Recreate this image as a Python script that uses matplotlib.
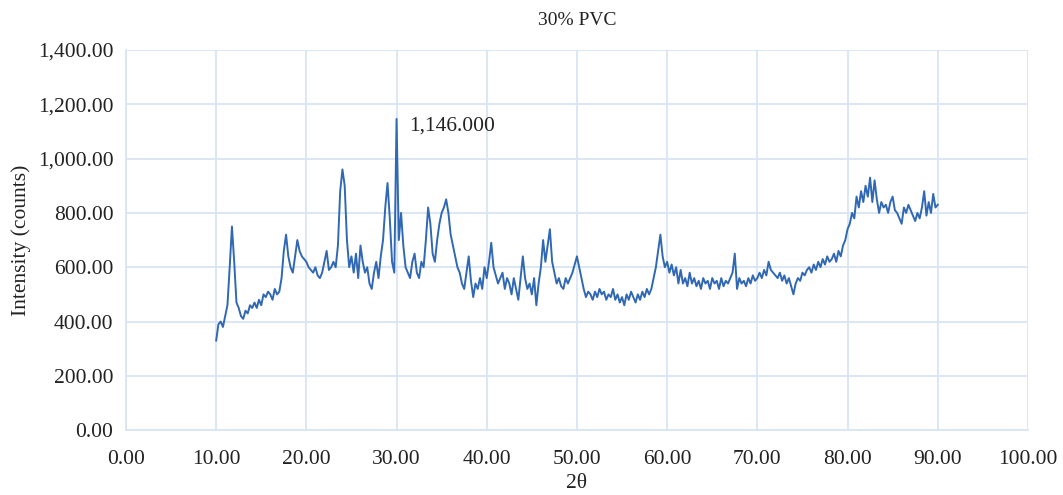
import matplotlib
matplotlib.use("Agg")
import matplotlib.pyplot as plt
from matplotlib.ticker import FuncFormatter, MultipleLocator

title = "30% PVC"
x_label = "2θ"
y_label = "Intensity (counts)"
peak_x = 30.0
peak_y = 1146
peak_label = "1,146.000"

two_theta = [
    10.00, 10.25, 10.50, 10.75, 11.00, 11.25, 11.50, 11.75, 12.00, 12.25,
    12.50, 12.75, 13.00, 13.25, 13.50, 13.75, 14.00, 14.25, 14.50, 14.75,
    15.00, 15.25, 15.50, 15.75, 16.00, 16.25, 16.50, 16.75, 17.00, 17.25,
    17.50, 17.75, 18.00, 18.25, 18.50, 18.75, 19.00, 19.25, 19.50, 19.75,
    20.00, 20.25, 20.50, 20.75, 21.00, 21.25, 21.50, 21.75, 22.00, 22.25,
    22.50, 22.75, 23.00, 23.25, 23.50, 23.75, 24.00, 24.25, 24.50, 24.75,
    25.00, 25.25, 25.50, 25.75, 26.00, 26.25, 26.50, 26.75, 27.00, 27.25,
    27.50, 27.75, 28.00, 28.25, 28.50, 28.75, 29.00, 29.25, 29.50, 29.75,
    30.00, 30.25, 30.50, 30.75, 31.00, 31.25, 31.50, 31.75, 32.00, 32.25,
    32.50, 32.75, 33.00, 33.25, 33.50, 33.75, 34.00, 34.25, 34.50, 34.75,
    35.00, 35.25, 35.50, 35.75, 36.00, 36.25, 36.50, 36.75, 37.00, 37.25,
    37.50, 37.75, 38.00, 38.25, 38.50, 38.75, 39.00, 39.25, 39.50, 39.75,
    40.00, 40.25, 40.50, 40.75, 41.00, 41.25, 41.50, 41.75, 42.00, 42.25,
    42.50, 42.75, 43.00, 43.25, 43.50, 43.75, 44.00, 44.25, 44.50, 44.75,
    45.00, 45.25, 45.50, 45.75, 46.00, 46.25, 46.50, 46.75, 47.00, 47.25,
    47.50, 47.75, 48.00, 48.25, 48.50, 48.75, 49.00, 49.25, 49.50, 49.75,
    50.00, 50.25, 50.50, 50.75, 51.00, 51.25, 51.50, 51.75, 52.00, 52.25,
    52.50, 52.75, 53.00, 53.25, 53.50, 53.75, 54.00, 54.25, 54.50, 54.75,
    55.00, 55.25, 55.50, 55.75, 56.00, 56.25, 56.50, 56.75, 57.00, 57.25,
    57.50, 57.75, 58.00, 58.25, 58.50, 58.75, 59.00, 59.25, 59.50, 59.75,
    60.00, 60.25, 60.50, 60.75, 61.00, 61.25, 61.50, 61.75, 62.00, 62.25,
    62.50, 62.75, 63.00, 63.25, 63.50, 63.75, 64.00, 64.25, 64.50, 64.75,
    65.00, 65.25, 65.50, 65.75, 66.00, 66.25, 66.50, 66.75, 67.00, 67.25,
    67.50, 67.75, 68.00, 68.25, 68.50, 68.75, 69.00, 69.25, 69.50, 69.75,
    70.00, 70.25, 70.50, 70.75, 71.00, 71.25, 71.50, 71.75, 72.00, 72.25,
    72.50, 72.75, 73.00, 73.25, 73.50, 73.75, 74.00, 74.25, 74.50, 74.75,
    75.00, 75.25, 75.50, 75.75, 76.00, 76.25, 76.50, 76.75, 77.00, 77.25,
    77.50, 77.75, 78.00, 78.25, 78.50, 78.75, 79.00, 79.25, 79.50, 79.75,
    80.00, 80.25, 80.50, 80.75, 81.00, 81.25, 81.50, 81.75, 82.00, 82.25,
    82.50, 82.75, 83.00, 83.25, 83.50, 83.75, 84.00, 84.25, 84.50, 84.75,
    85.00, 85.25, 85.50, 85.75, 86.00, 86.25, 86.50, 86.75, 87.00, 87.25,
    87.50, 87.75, 88.00, 88.25, 88.50, 88.75, 89.00, 89.25, 89.50, 89.75,
    90.00,
]

intensity = [
    330, 390, 400, 380, 420, 460, 600, 750, 620, 470,
    450, 420, 410, 440, 430, 460, 450, 470, 450, 480,
    460, 500, 490, 510, 500, 480, 520, 500, 510, 560,
    660, 720, 640, 600, 580, 640, 700, 660, 640, 630,
    620, 600, 590, 580, 600, 570, 560, 580, 620, 660,
    590, 600, 620, 600, 680, 880, 960, 900, 700, 600,
    640, 580, 650, 560, 680, 620, 580, 600, 540, 520,
    580, 620, 560, 640, 700, 820, 910, 780, 620, 580,
    1146, 700, 800, 680, 600, 580, 560, 620, 650, 580,
    560, 620, 600, 700, 820, 760, 650, 620, 700, 760,
    800, 820, 850, 800, 720, 680, 640, 600, 580, 540,
    520, 580, 640, 550, 490, 540, 520, 560, 520, 600,
    560, 620, 690, 600, 570, 540, 560, 580, 520, 560,
    540, 500, 560, 520, 480, 560, 640, 560, 520, 540,
    500, 560, 460, 540, 600, 700, 620, 680, 740, 620,
    580, 540, 560, 530, 520, 560, 540, 560, 580, 610,
    640, 600, 560, 520, 490, 510, 500, 480, 510, 490,
    520, 500, 510, 480, 500, 490, 520, 480, 500, 470,
    490, 460, 500, 480, 510, 490, 470, 500, 480, 510,
    490, 520, 500, 520, 560, 600, 660, 720, 640, 600,
    620, 580, 610, 570, 600, 540, 590, 540, 560, 530,
    580, 540, 560, 530, 550, 520, 560, 540, 550, 520,
    560, 540, 550, 520, 560, 530, 550, 540, 560, 580,
    650, 520, 560, 540, 550, 530, 560, 540, 570, 550,
    560, 580, 560, 590, 570, 620, 590, 580, 570, 560,
    580, 550, 570, 540, 560, 530, 500, 540, 560, 550,
    580, 570, 590, 600, 580, 610, 590, 620, 600, 630,
    610, 640, 620, 630, 650, 620, 660, 640, 680, 700,
    740, 760, 800, 780, 860, 820, 880, 840, 900, 860,
    930, 840, 920, 850, 800, 840, 820, 830, 800, 840,
    860, 810, 800, 780, 760, 820, 800, 830, 810, 790,
    770, 800, 780, 820, 880, 790, 840, 800, 870, 820,
    830,
]

plt.rcParams["font.family"] = ["Liberation Serif", "DejaVu Serif"]

fig = plt.figure(figsize=(10.63, 4.95), dpi=100)
ax = fig.add_axes([0.1185, 0.131, 0.8485, 0.768])

grid_col = "#D9E5F4"
line_col = "#3068B4"
text_col = "#222222"

ax.plot(two_theta, intensity, color=line_col, linewidth=1.4, zorder=3)

ax.set_xlim(0, 100)
ax.set_ylim(0, 1400)
ax.xaxis.set_major_locator(MultipleLocator(10))
ax.yaxis.set_major_locator(MultipleLocator(200))
ax.xaxis.set_major_formatter(FuncFormatter(lambda v, p: f"{v:,.2f}"))
ax.yaxis.set_major_formatter(FuncFormatter(lambda v, p: f"{v:,.2f}"))
ax.grid(True, color=grid_col, linewidth=1.3, zorder=0)
for s in ["top", "right"]:
    ax.spines[s].set_visible(False)
ax.spines["left"].set_color(grid_col)
ax.spines["bottom"].set_color(grid_col)
ax.spines["left"].set_linewidth(1.3)
ax.spines["bottom"].set_linewidth(1.3)
ax.tick_params(axis="both", length=0, labelsize=15.5, colors=text_col)
ax.tick_params(axis="y", pad=9)
ax.tick_params(axis="x", pad=14)

ax.set_title(title, fontsize=14, pad=18, color=text_col)
ax.set_xlabel(x_label, fontsize=15.5, labelpad=4, color=text_col)
ax.set_ylabel(y_label, fontsize=15.5, labelpad=5, color=text_col)

ax.annotate(peak_label, xy=(peak_x, peak_y), xytext=(9, -5),
            textcoords="offset points", fontsize=15.5, color=text_col,
            ha="left", va="center")

fig.savefig("out.png", dpi=100)
